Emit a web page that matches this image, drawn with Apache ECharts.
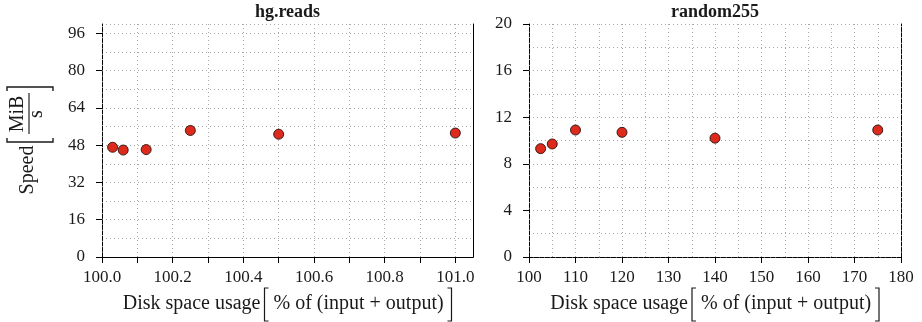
<!DOCTYPE html>
<html lang="en">
<head>
  <meta charset="UTF-8">
  <title>Speed vs disk space usage</title>
  <style>
    html, body { margin: 0; padding: 0; background: #fff; }
    #chart { width: 922px; height: 322px; }
  </style>
  <script src="https://cdn.jsdelivr.net/npm/echarts@6/dist/echarts.min.js"></script>
</head>
<body>
  <div id="chart"></div>
  <script>
    // hg.reads panel
    var hgX = [100.03, 100.06, 100.125, 100.25, 100.5, 101.0];
    var hgY = [47.1, 45.9, 46.1, 54.3, 52.7, 53.2];
    var hgXTicks = [100.0, 100.1, 100.2, 100.3, 100.4, 100.5, 100.6, 100.7, 100.8, 100.9, 101.0];
    var hgXLabels = [100.0, 100.2, 100.4, 100.6, 100.8, 101.0];
    var hgYTicks = [0, 16, 32, 48, 64, 80, 96];

    // random255 panel
    var rX = [102.5, 105, 110, 120, 140, 175];
    var rY = [9.3, 9.7, 10.9, 10.7, 10.2, 10.9];
    var rXTicks = [100, 110, 120, 130, 140, 150, 160, 170, 180];
    var rYTicks = [0, 4, 8, 12, 16, 20];

    var FONT = '"Liberation Serif", "DejaVu Serif", serif';
    var INK = '#1a1a1a';
    var dotted = { color: '#a8a8a8', width: 1, type: [1, 3] };
    var dashed = { color: '#000', width: 1, type: [4, 1.5] };
    var solid = { color: '#000', width: 1 };

    // plot rectangles (left, top, width, height)
    var P1 = { left: 102, top: 24, width: 371, height: 233 };
    var P2 = { left: 529, top: 24, width: 372, height: 233 };

    // bottom / left axes: ticks and labels
    function tickAxis(grid, pos, min, max, ticks, labels, fmt, border) {
      return {
        type: 'value', gridIndex: grid, position: pos, min: min, max: max,
        axisLine: { show: true, lineStyle: border },
        axisTick: { show: true, inside: false, length: 6, customValues: ticks, lineStyle: { color: '#000' } },
        axisLabel: {
          show: true, customValues: labels, formatter: fmt,
          fontFamily: FONT, fontSize: 17, color: INK,
          margin: pos === 'bottom' ? 12 : 17
        },
        splitLine: { show: false }
      };
    }
    // top / right axes: frame border and dotted grid
    function gridAxis(grid, pos, min, max, step, border) {
      return {
        type: 'value', gridIndex: grid, position: pos, min: min, max: max, interval: step,
        axisLine: { show: true, lineStyle: border },
        axisTick: { show: false },
        axisLabel: { show: false },
        splitLine: { show: true, lineStyle: dotted }
      };
    }

    function axisName(cx) {
      var y = 304;
      return {
        type: 'group', x: cx, y: y, silent: true,
        children: [
          { type: 'text', x: -27, y: 0, style: { text: 'Disk space usage', font: '20px ' + FONT, fill: INK, align: 'right', verticalAlign: 'middle' } },
          { type: 'polyline', shape: { points: [[-19, -16], [-23, -16], [-23, 17], [-19, 17]] }, style: { stroke: INK, lineWidth: 1.2, fill: null } },
          { type: 'text', x: -14, y: 0, style: { text: '% of (input + output)', font: '20px ' + FONT, fill: INK, align: 'left', verticalAlign: 'middle' } },
          { type: 'polyline', shape: { points: [[160, -16], [164, -16], [164, 17], [160, 17]] }, style: { stroke: INK, lineWidth: 1.2, fill: null } }
        ]
      };
    }

    var yName = {
      type: 'group', x: 28, y: 142, rotation: Math.PI / 2, silent: true,
      children: [
        { type: 'text', x: -28, y: 0, style: { text: 'Speed', font: '20px ' + FONT, fill: INK, align: 'center', verticalAlign: 'middle' } },
        { type: 'polyline', shape: { points: [[4, -21], [0, -21], [0, 25], [4, 25]] }, style: { stroke: INK, lineWidth: 1.4, fill: null } },
        { type: 'polyline', shape: { points: [[51, -21], [55, -21], [55, 25], [51, 25]] }, style: { stroke: INK, lineWidth: 1.4, fill: null } },
        { type: 'text', x: 28, y: -10, style: { text: 'MiB', font: '20px ' + FONT, fill: INK, align: 'center', verticalAlign: 'middle' } },
        { type: 'line', shape: { x1: 8, y1: 1, x2: 49, y2: 1 }, style: { stroke: '#444', lineWidth: 1.4 } },
        { type: 'text', x: 28, y: 9, style: { text: 's', font: '20px ' + FONT, fill: INK, align: 'center', verticalAlign: 'middle' } }
      ]
    };

    var pointStyle = { color: '#dd2a1c', borderColor: '#2a1210', borderWidth: 0.9, opacity: 1 };

    var chart = echarts.init(document.getElementById('chart'), null, { renderer: 'canvas' });
    chart.setOption({
      backgroundColor: '#fff',
      animation: false,
      title: [
        { text: 'hg.reads', left: P1.left + P1.width / 2, textAlign: 'center', top: 3, padding: 0,
          textStyle: { fontFamily: FONT, fontWeight: 'bold', fontSize: 18, color: INK } },
        { text: 'random255', left: P2.left + P2.width / 2, textAlign: 'center', top: 3, padding: 0,
          textStyle: { fontFamily: FONT, fontWeight: 'bold', fontSize: 18, color: INK } }
      ],
      grid: [
        { left: P1.left, top: P1.top, width: P1.width, height: P1.height, containLabel: false },
        { left: P2.left, top: P2.top, width: P2.width, height: P2.height, containLabel: false }
      ],
      xAxis: [
        tickAxis(0, 'bottom', 100, 101.05, hgXTicks, hgXLabels, function (v) { return v.toFixed(1); }, dashed),
        gridAxis(0, 'top', 100, 101.05, 0.1, solid),
        tickAxis(1, 'bottom', 100, 180, rXTicks, rXTicks, function (v) { return String(v); }, dashed),
        gridAxis(1, 'top', 100, 180, 5, dashed)
      ],
      yAxis: [
        tickAxis(0, 'left', 0, 100, hgYTicks, hgYTicks, function (v) { return String(v); }, dashed),
        gridAxis(0, 'right', 0, 100, 8, solid),
        tickAxis(1, 'left', 0, 20, rYTicks, rYTicks, function (v) { return String(v); }, dashed),
        gridAxis(1, 'right', 0, 20, 2, dashed)
      ],
      graphic: [yName, axisName(P1.left + P1.width / 2), axisName(P2.left + P2.width / 2)],
      series: [
        {
          type: 'scatter', xAxisIndex: 0, yAxisIndex: 0, symbolSize: 10,
          itemStyle: pointStyle, z: 5,
          data: hgX.map(function (x, i) { return [x, hgY[i]]; })
        },
        {
          type: 'scatter', xAxisIndex: 2, yAxisIndex: 2, symbolSize: 10,
          itemStyle: pointStyle, z: 5,
          data: rX.map(function (x, i) { return [x, rY[i]]; })
        }
      ]
    });
  </script>
</body>
</html>
